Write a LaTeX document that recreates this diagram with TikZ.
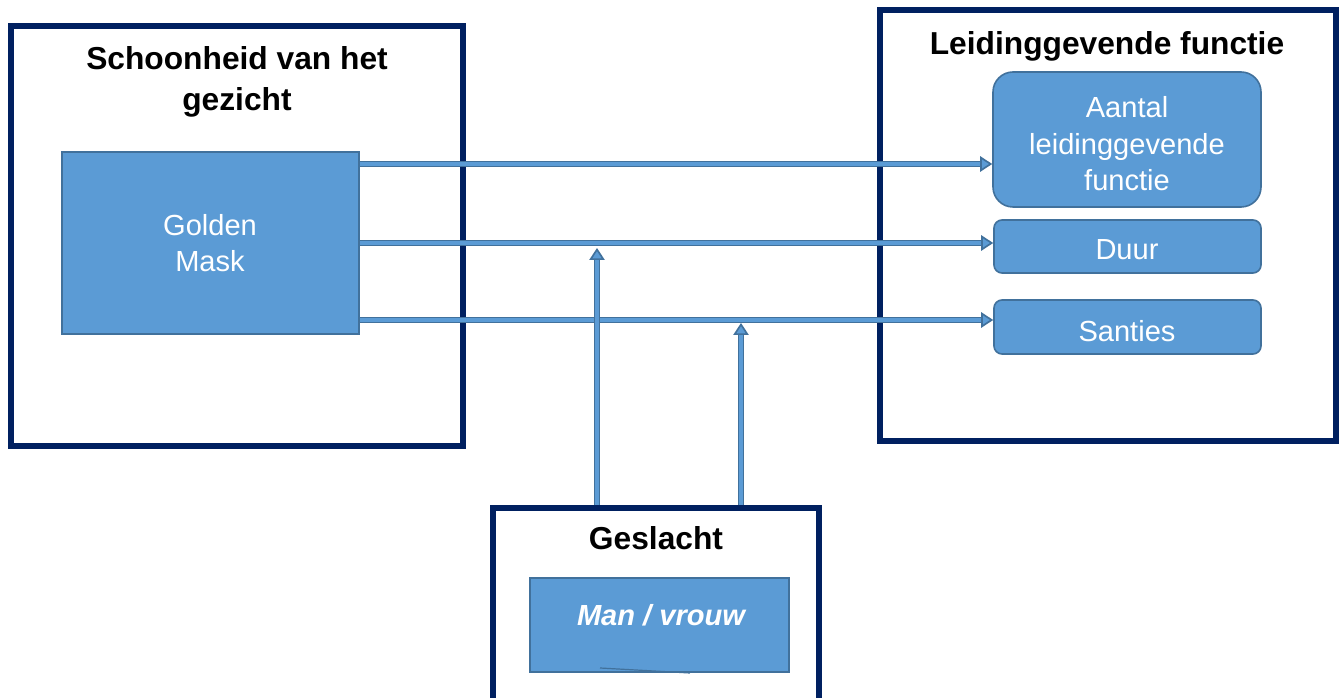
\documentclass[tikz,border=0pt]{standalone}
\usepackage{fontspec}
\setmainfont{Liberation Sans}
\usetikzlibrary{arrows.meta,fit}
\definecolor{navy}{HTML}{002060}
\definecolor{boxfill}{HTML}{5B9BD5}
\definecolor{boxline}{HTML}{41719C}
\tikzset{
  outerbox/.style={draw=navy, line width=4.5pt, fill=white, inner sep=0pt},
  bluebox/.style={draw=boxline, line width=1.2pt, fill=boxfill, inner sep=0pt},
  title/.style={font=\bfseries\fontsize{23.8}{30.75}\selectfont, align=center, inner sep=0pt},
  boxtext/.style={text=white, font=\fontsize{21.8}{27.4}\selectfont, align=center, inner sep=0pt},
  arr/.style={draw=boxline, double=boxfill, line width=1.25pt, double distance=2.4pt,
    -{Triangle[length=9pt,width=11.5pt,fill=boxfill]}}
}
\begin{document}
\begin{tikzpicture}[x=0.75pt,y=-0.75pt]
\useasboundingbox (0,0) rectangle (1339,698);

% independent variable: facial beauty
\node[outerbox, fit={(10.5,26.5) (463,446)}] (beauty) {};
\node[title] (beautyT) at (237,82) {Schoonheid van het\\gezicht};
\node[bluebox, fit={(62,152) (359,334)}] (mask) {};
\node[boxtext] (maskT) at (210,243) {Golden\\Mask};

% dependent variables: leadership position
\node[outerbox, fit={(880,10) (1336,441)}] (lead) {};
\node[title] (leadT) at (1107,46) {Leidinggevende functie};
\node[bluebox, rounded corners=15pt, fit={(993,72) (1261,207)}] (aantal) {};
\node[boxtext] (aantalT) at (1127,144) {Aantal\\leidinggevende\\functie};
\node[bluebox, rounded corners=6pt, fit={(994,220) (1261,273)}] (duur) {};
\node[boxtext] (duurT) at (1127,250) {Duur};
\node[bluebox, rounded corners=6pt, fit={(994,300) (1261,354)}] (santies) {};
\node[boxtext] (santiesT) at (1127,331) {Santies};

% moderator: gender
\node[outerbox, fit={(493,508) (819,720)}] (gender) {};
\node[title] (genderT) at (656,538) {Geslacht};
\node[bluebox, fit={(530,578) (789,672)}] (sex) {};
\node[boxtext, font=\bfseries\itshape\fontsize{21.8}{27.4}\selectfont] (sexT) at (661,615) {Man / vrouw};
\draw[boxline, line width=0.9pt] (600,668) -- (690,673);

% main effects
\coordinate (h1) at (0,164);
\coordinate (h2) at (0,243);
\coordinate (h3) at (0,320);
\draw[arr] (mask.east |- h1) -- (aantal.west |- h1);
\draw[arr] (mask.east |- h2) -- (duur.west |- h2);
\draw[arr] (mask.east |- h3) -- (santies.west |- h3);

% moderation arrows
\coordinate (v1) at (597,248);
\coordinate (v2) at (741,323);
\draw[arr] (gender.north -| v1) -- (v1);
\draw[arr] (gender.north -| v2) -- (v2);
\end{tikzpicture}
\end{document}
